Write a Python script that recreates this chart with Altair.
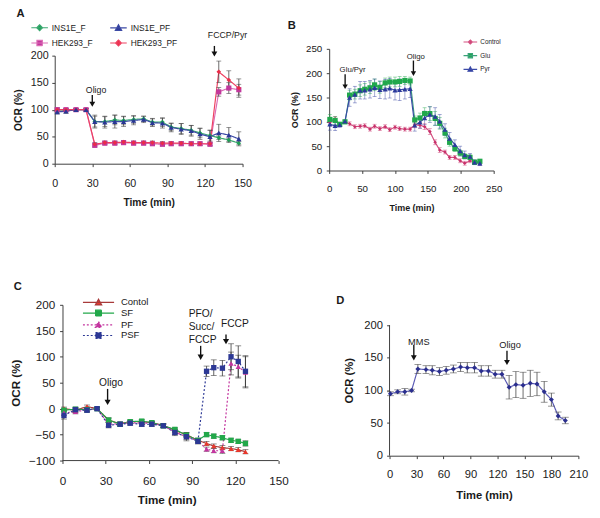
import altair as alt
import pandas as pd

FONT = "Liberation Sans"
AXC = "#3c3c3c"
TXT = "#1a1a1a"

# ---------------- Panel A data ----------------
a_time = [2, 9, 17, 25, 32, 40, 48, 55, 63, 71, 78, 86, 93, 101, 109, 116, 124, 131, 139, 147]
a_names = ["INS1E_F", "HEK293_F", "INS1E_PF", "HEK293_PF"]
a_ins1e_f = [97, 99, 100, 100, 78, 78, 81, 80, 82, 83, 77, 77, 68, 65, 62, 57, 52, 48, 44, 38]
a_ins1e_pf = [96, 97, 100, 100, 78, 77, 78, 78, 80, 82, 76, 75, 67, 64, 61, 55, 50, 57, 53, 46]
a_hek_f = [100, 100, 100, 100, 34, 38, 38, 39, 38, 38, 37, 36, 37, 37, 37, 37, 36, 133, 140, 137]
a_hek_pf = [100, 100, 100, 100, 36, 39, 39, 40, 39, 39, 39, 38, 38, 38, 37, 37, 37, 170, 155, 140]
a_e_ins1e_f = [3, 3, 2, 2, 10, 9, 9, 8, 7, 5, 7, 8, 7, 9, 9, 9, 10, 3, 3, 3]
a_e_ins1e_pf = [4, 4, 2, 2, 12, 11, 12, 9, 8, 6, 7, 9, 8, 10, 10, 10, 12, 16, 14, 13]
a_e_hek_f = [3, 2, 2, 2, 3, 3, 3, 3, 3, 3, 3, 3, 3, 3, 3, 3, 3, 8, 10, 10]
a_e_hek_pf = [3, 2, 2, 2, 3, 3, 3, 3, 3, 3, 3, 3, 3, 3, 3, 3, 3, 20, 17, 17]
a_ann_labels = ["Oligo", "FCCP/Pyr"]
a_ann_t = [33, 138]
a_ann_v = [136, 239]
a_arrow_t = [30, 127.5]
a_arrow_top = [127, 218]
a_arrow_tip = [110, 203]

# ---------------- Panel B data ----------------
b_time = [1, 9, 16, 24, 31, 39, 47, 54, 62, 69, 77, 85, 92, 100, 107, 115, 123,
          130, 138, 145, 153, 161, 168, 176, 183, 191, 199, 206, 214, 221, 229]
b_names = ["Control", "Glu", "Pyr"]
b_control = [98, 106, 94, 100, 96, 90, 91, 92, 85, 91, 86, 90, 84, 89, 86, 85, 85,
             94, 93, 90, 80, 58, 42, 38, 27, 27, 20, 15, 20, 17, 15]
b_glu = [105, 103, 95, 100, 155, 157, 164, 167, 170, 176, 171, 180, 182, 182, 183, 185, 184,
         104, 108, 117, 117, 107, 97, 77, 58, 45, 36, 29, 27, 17, 19]
b_pyr = [95, 92, 94, 101, 150, 156, 165, 165, 167, 170, 166, 167, 169, 165, 166, 167, 168,
         93, 99, 108, 115, 111, 101, 84, 66, 53, 40, 32, 29, 17, 15]
b_e_control = [5, 5, 4, 3, 4, 4, 4, 4, 4, 4, 4, 4, 4, 4, 4, 4, 4, 6, 6, 6, 6, 5, 5, 4, 4, 4, 4, 4, 4, 4, 4]
b_e_glu = [10, 8, 4, 3, 10, 10, 12, 12, 12, 12, 12, 10, 10, 10, 10, 8, 8, 8, 10, 12, 14, 14, 12, 10, 8, 6, 6, 5, 5, 4, 4]
b_e_pyr = [12, 10, 5, 3, 18, 17, 18, 18, 18, 18, 18, 20, 20, 20, 22, 20, 18, 12, 12, 14, 16, 18, 14, 12, 12, 10, 10, 8, 6, 5, 5]
b_ann_labels = ["Glu/Pyr", "Oligo"]
b_ann_t = [35.5, 131.7]
b_ann_v = [206, 234]
b_arrow_t = [24.2, 128]
b_arrow_top = [198, 226]
b_arrow_tip = [172, 199]

# ---------------- Panel C data ----------------
c_time = [1, 9, 17, 24, 32, 40, 47, 55, 62, 70, 78, 86, 94, 100, 105, 111, 117, 122, 127]
c_names = ["Contol", "SF", "PF", "PSF"]
c_contol = [0, -3, 4, 0, -22, -29, -25, -25, -27, -32, -42, -50, -61, -67, -72, -75, -77, -79, -83]
c_sf = [-3, -1, -2, 0, -22, -30, -25, -24, -27, -33, -40, -51, -61, -50, -53, -56, -61, -63, -67]
c_pf = [-8, -6, -2, 0, -30, -29, -27, -28, -28, -33, -45, -54, -62, -78, -81, -81, 87, 81, 70]
c_psf = [-13, -2, -3, 0, -32, -30, -28, -30, -30, -33, -46, -54, -63, 72, 79, 78, 100, 91, 72]
c_e_contol = [3, 3, 3, 2, 4, 3, 3, 3, 3, 3, 4, 4, 4, 4, 4, 4, 4, 4, 4]
c_e_sf = [3, 3, 3, 2, 4, 3, 3, 3, 3, 3, 4, 4, 4, 4, 4, 4, 4, 4, 5]
c_e_pf = [5, 4, 3, 2, 4, 3, 3, 3, 3, 3, 5, 5, 4, 4, 4, 5, 22, 22, 30]
c_e_psf = [7, 5, 4, 2, 5, 4, 4, 4, 4, 4, 6, 8, 5, 10, 15, 15, 25, 30, 30]
c_ann_labels = ["Oligo", "FCCP"]
c_ann_t = [33.6, 119.6]
c_ann_v = [49, 162]
c_ann2_labels = ["PFO/\nSucc/\nFCCP"]
c_ann2_t = [87.6]
c_ann2_v = [192]
c_arrow_t = [31.3, 95.9, 113.5]
c_arrow_top = [38, 121, 143]
c_arrow_tip = [12, 99, 129]

# ---------------- Panel D data ----------------
d_time = [1, 9, 17, 24.5, 31.5, 40.5, 47.5, 55.5, 63, 71, 79, 86.5, 94.5, 102, 110, 117.5,
          125, 133, 140.5, 148.5, 156.5, 164, 172, 180, 187.5, 195.5]
d_names = ["MMS"]
d_vals = [95, 98, 98, 100, 133, 132, 131, 129, 131, 133, 136, 135, 135, 130, 130, 125, 125,
          105, 109, 108, 111, 110, 98, 86, 61, 54]
d_errs = [3, 3, 5, 2, 7, 6, 7, 6, 6, 6, 7, 8, 8, 8, 8, 6, 6, 18, 20, 20, 20, 18, 16, 10, 6, 5]
d_ann_labels = ["MMS", "Oligo"]
d_ann_t = [32.5, 134]
d_ann_v = [175, 170]
d_arrow_t = [27, 130.6]
d_arrow_top = [170, 161]
d_arrow_tip = [150, 143]


def shape_path(kind, m):
    if kind == "diamond":
        return f"M0,{-m:g}L{m:g},0L0,{m:g}L{-m:g},0Z"
    if kind == "triangle-up":
        return f"M0,{-m:g}L{m:g},{0.8 * m:g}L{-m:g},{0.8 * m:g}Z"
    return f"M{-m:g},{-m:g}H{m:g}V{m:g}H{-m:g}Z"


def legend_path(kind, half, m):
    return f"M{-half:g},0H{half:g}" + shape_path(kind, m)


def make_axis(values, title, lsize, tsize, lpad, tpad, domain=True, offset=0):
    return alt.Axis(values=values, title=title, grid=False, domain=domain, domainColor=AXC,
                    domainWidth=1, ticks=True, tickColor=AXC, tickSize=3, tickWidth=1,
                    labelFont=FONT, labelFontSize=lsize, labelColor=TXT, labelPadding=lpad,
                    labelOverlap=False, labelFlush=False, offset=offset,
                    titleFont=FONT, titleFontSize=tsize, titleFontWeight="bold",
                    titleColor=TXT, titlePadding=tpad)


def build_panel(P):
    f = P["field"]
    order = P["order"]
    rows = []
    for s in order:
        for t, v, e in zip(P["time"], P["vals"][s], P["errs"][s]):
            rows.append({"time": t, "value": v, "lo": v - e, "hi": v + e, f: s})
    df = pd.DataFrame(rows)

    xs = alt.Scale(domain=P["xdom"], nice=False, zero=False)
    ys = alt.Scale(domain=P["ydom"], nice=False, zero=False)
    xa = make_axis(P["xticks"], "Time (min)", domain=("xline" not in P), **P["xax"])
    ya = make_axis(P["yticks"], "OCR (%)", domain=("yline" not in P), **P["yax"])

    def X(c):
        return alt.X(f"{c}:Q", scale=xs, axis=xa)

    def Y(c):
        return alt.Y(f"{c}:Q", scale=ys, axis=ya)

    has_leg = "legend" in P
    lg = {} if has_leg else {"legend": None}
    cs = alt.Scale(domain=order, range=P["mcolors"])
    ss = alt.Scale(domain=order, range=P["lcolors"])
    ds = alt.Scale(domain=order, range=P["dashes"])
    layers = []

    if "yline" in P:
        yl = pd.DataFrame({"x0": [P["yline"][0]], "y0": [P["yline"][1]], "y1": [P["yline"][2]]})
        layers.append(alt.Chart(yl).mark_rule(color=AXC, strokeWidth=1).encode(
            x=X("x0"), y=Y("y0"), y2="y1:Q"))
    if "xline" in P:
        xl = pd.DataFrame({"y0": [P["xline"][0]], "x0": [P["xline"][1]], "x1": [P["xline"][2]]})
        layers.append(alt.Chart(xl).mark_rule(color=AXC, strokeWidth=1).encode(
            y=Y("y0"), x=X("x0"), x2="x1:Q"))

    layers.append(alt.Chart(df).mark_line(strokeWidth=1.2).encode(
        x=X("time"), y=Y("value"),
        stroke=alt.Stroke(f"{f}:N", scale=ss, **lg),
        strokeDash=alt.StrokeDash(f"{f}:N", scale=ds, **lg)))

    if P.get("err_by_series"):
        enc = {"color": alt.Color(f"{f}:N", scale=cs, **lg)}
        mk = {"opacity": 0.55}
    else:
        enc = {}
        mk = {"color": P["err_color"]}
    layers.append(alt.Chart(df).mark_rule(strokeWidth=0.8, **mk).encode(
        x=X("time"), y=Y("lo"), y2="hi:Q", **enc))
    layers.append(alt.Chart(df).transform_fold(["lo", "hi"], as_=["k", "cap"]).mark_tick(
        orient="horizontal", size=P["cap"], thickness=0.8, **mk).encode(
        x=X("time"), y=Y("cap"), **enc))

    for s in P["draw_order"]:
        i = order.index(s)
        layers.append(alt.Chart(df).transform_filter(alt.datum[f] == s).mark_point(
            filled=True, shape=P["shapes"][i], size=P["sizes"][i], opacity=1, strokeWidth=0).encode(
            x=X("time"), y=Y("value"), color=alt.Color(f"{f}:N", scale=cs, **lg)))

    for grp in P["ann"]:
        adf = pd.DataFrame({"t": grp["t"], "v": grp["v"], "label": grp["labels"]})
        layers.append(alt.Chart(adf).mark_text(
            font=FONT, fontSize=grp["fs"], color=TXT, align=grp.get("align", "center"),
            baseline=grp.get("baseline", "middle"), lineBreak="\n",
            lineHeight=grp.get("lh", grp["fs"] * 1.2)).encode(
            x=X("t"), y=Y("v"), text="label:N"))

    arr = pd.DataFrame({"t": P["arrow_t"], "top": P["arrow_top"], "tip": P["arrow_tip"]})
    layers.append(alt.Chart(arr).mark_rule(color="#111111", strokeWidth=1.4).encode(
        x=X("t"), y=Y("top"), y2="tip:Q"))
    layers.append(alt.Chart(arr).mark_point(shape="triangle-down", filled=True, color="#111111",
                                            size=P["head"], opacity=1, strokeWidth=0).encode(
        x=X("t"), y=Y("tip")))

    ldf = pd.DataFrame({"L": [P["letter"]]})
    layers.append(alt.Chart(ldf).mark_text(font=FONT, fontSize=11.5, fontWeight="bold",
                                           color=TXT).encode(
        x=alt.value(P["letter_xy"][0]), y=alt.value(P["letter_xy"][1]), text="L:N"))

    # invisible layout anchors (fix the outer extent of each row)
    for ax_, ay_ in P.get("anchors", []):
        layers.append(alt.Chart(pd.DataFrame({"a": [0]})).mark_point(
            opacity=0, size=1, filled=True).encode(x=alt.value(ax_), y=alt.value(ay_)))

    if has_leg:
        lp = P["legend"]
        L = alt.Legend(orient="none", legendX=lp["x"], legendY=lp["y"], title=None,
                       columns=lp.get("columns", 1), symbolSize=lp["size"],
                       symbolStrokeWidth=1.2, symbolStrokeColor="#000000",
                       symbolFillColor="#000000", labelFont=FONT,
                       labelFontSize=lp["fs"], labelColor=TXT, labelOffset=lp["offset"],
                       rowPadding=lp["rowpad"], columnPadding=lp.get("colpad", 10), padding=0)
        paths = [legend_path(k, lp["half"], m) for k, m in zip(P["shapes"], lp["marks"])]
        layers.append(alt.Chart(df).transform_filter("false").mark_point(
            filled=True, opacity=1, strokeWidth=1.2).encode(
            x=X("time"), y=Y("value"),
            color=alt.Color(f"{f}:N", scale=cs, legend=L),
            stroke=alt.Stroke(f"{f}:N", scale=ss, legend=L),
            shape=alt.Shape(f"{f}:N", scale=alt.Scale(domain=order, range=paths), legend=L),
            strokeDash=alt.StrokeDash(f"{f}:N", scale=ds, legend=L)))

    return alt.layer(*layers).properties(width=P["w"], height=P["h"])


SOLID = [1, 0]
DOT = [2, 2]

panel_a = build_panel(dict(
    field="sa", order=a_names, time=a_time,
    vals=dict(zip(a_names, [a_ins1e_f, a_hek_f, a_ins1e_pf, a_hek_pf])),
    errs=dict(zip(a_names, [a_e_ins1e_f, a_e_hek_f, a_e_ins1e_pf, a_e_hek_pf])),
    xdom=[0, 150], ydom=[0, 200], xticks=[0, 30, 60, 90, 120, 150], yticks=[0, 50, 100, 150, 200],
    xax=dict(lsize=11, tsize=10.5, lpad=11, tpad=9.9), yax=dict(lsize=11, tsize=10.5, lpad=3.7, tpad=6.7),
    mcolors=["#1e9e55", "#c1389c", "#2a3795", "#ea2c48"],
    lcolors=["#3aa870", "#dc6cb6", "#3c4aa5", "#ee4060"],
    dashes=[SOLID, SOLID, SOLID, SOLID],
    shapes=["diamond", "square", "triangle-up", "diamond"], sizes=[22, 28, 30, 22],
    draw_order=["INS1E_F", "HEK293_F", "HEK293_PF", "INS1E_PF"],
    err_color="#444444", cap=5,
    ann=[dict(labels=a_ann_labels, t=a_ann_t, v=a_ann_v, fs=9)],
    arrow_t=a_arrow_t, arrow_top=a_arrow_top, arrow_tip=a_arrow_tip, head=36,
    letter="A", letter_xy=(-35, -43),
    anchors=[(-57, -57)],
    legend=dict(x=-21.5, y=-35, columns=2, size=100, half=1.7, marks=[0.6, 0.55, 0.65, 0.6],
                fs=8.6, offset=6.5, rowpad=4, colpad=15),
    w=193, h=111))

panel_b = build_panel(dict(
    field="sb", order=b_names, time=b_time,
    vals=dict(zip(b_names, [b_control, b_glu, b_pyr])),
    errs=dict(zip(b_names, [b_e_control, b_e_glu, b_e_pyr])),
    xdom=[0, 250], ydom=[0, 250], xticks=[0, 50, 100, 150, 200, 250],
    yticks=[0, 50, 100, 150, 200, 250],
    xax=dict(lsize=10, tsize=9.2, lpad=10.5, tpad=10.8), yax=dict(lsize=10, tsize=9.2, lpad=4.7, tpad=6.1),
    mcolors=["#c8306a", "#20a84c", "#2b3a9c"],
    lcolors=["#d45080", "#3aa27a", "#3b4aa8"],
    dashes=[SOLID, SOLID, SOLID],
    shapes=["diamond", "square", "triangle-up"], sizes=[14, 28, 28],
    draw_order=["Control", "Glu", "Pyr"],
    err_by_series=True, cap=4,
    ann=[dict(labels=b_ann_labels, t=b_ann_t, v=b_ann_v, fs=8)],
    arrow_t=b_arrow_t, arrow_top=b_arrow_top, arrow_tip=b_arrow_tip, head=30,
    letter="B", letter_xy=(-38.5, -23),
    anchors=[(0, 175)],
    legend=dict(x=140, y=-12, size=64, half=1.75, marks=[0.5, 0.55, 0.6],
                fs=6.5, offset=5.3, rowpad=4),
    w=169, h=125))

# panel C view is 8px wider on the left; its axes are drawn from x=0
C_SHIFT = 8
panel_c = build_panel(dict(
    field="sc", order=c_names, time=c_time,
    vals=dict(zip(c_names, [c_contol, c_sf, c_pf, c_psf])),
    errs=dict(zip(c_names, [c_e_contol, c_e_sf, c_e_pf, c_e_psf])),
    xdom=[-150 * C_SHIFT / 222, 150], ydom=[-100, 200], xline=[-100, 0, 150],
    xticks=[0, 30, 60, 90, 120, 150],
    yticks=[-100, -50, 0, 50, 100, 150, 200],
    xax=dict(lsize=12, tsize=12, lpad=12.1, tpad=9.3),
    yax=dict(lsize=12, tsize=12, lpad=5, tpad=6, offset=-C_SHIFT),
    mcolors=["#e8382c", "#22a84a", "#c4359f", "#2c3895"],
    lcolors=["#a83a3a", "#22a84a", "#c4359f", "#2c3895"],
    dashes=[SOLID, SOLID, DOT, DOT],
    shapes=["triangle-up", "square", "triangle-up", "square"], sizes=[30, 30, 30, 30],
    draw_order=["Contol", "SF", "PF", "PSF"],
    err_color="#333333", cap=6,
    ann=[dict(labels=c_ann_labels, t=c_ann_t, v=c_ann_v, fs=10.5),
         dict(labels=c_ann2_labels, t=c_ann2_t, v=c_ann2_v, fs=10.5, align="left",
              baseline="top", lh=13.3)],
    arrow_t=c_arrow_t, arrow_top=c_arrow_top, arrow_tip=c_arrow_tip, head=40,
    letter="C", letter_xy=(-46 + C_SHIFT, -18),
    anchors=[(-65, -30)],
    legend=dict(x=31 + C_SHIFT, y=-8.5, size=100, half=3.2, marks=[0.65, 0.6, 0.65, 0.6],
                fs=9.8, offset=17, rowpad=-1),
    w=222 + C_SHIFT, h=160))

panel_d = build_panel(dict(
    field="sd", order=d_names, time=d_time,
    vals={"MMS": d_vals}, errs={"MMS": d_errs},
    xdom=[0, 210], ydom=[0, 231.34], yline=[0, 0, 200], xticks=[0, 30, 60, 90, 120, 150, 180, 210],
    yticks=[0, 50, 100, 150, 200],
    xax=dict(lsize=11.5, tsize=11.5, lpad=10, tpad=10.2), yax=dict(lsize=11.5, tsize=11.5, lpad=4.3, tpad=10),
    mcolors=["#2a2e8e"], lcolors=["#5a5ab4"], dashes=[SOLID],
    shapes=["diamond"], sizes=[26], draw_order=["MMS"],
    err_color="#444444", cap=7,
    ann=[dict(labels=d_ann_labels, t=d_ann_t, v=d_ann_v, fs=9.5)],
    arrow_t=d_arrow_t, arrow_top=d_arrow_top, arrow_tip=d_arrow_tip, head=36,
    letter="D", letter_xy=(-50.5, -3.5),
    w=194, h=155))

IND = dict(color="independent", stroke="independent", shape="independent",
           strokeDash="independent")

top_row = alt.hconcat(panel_a, panel_b, spacing=89, bounds="flush", center=True) \
    .resolve_scale(**IND).resolve_legend(**IND)
bottom_row = alt.hconcat(panel_c, panel_d, spacing=114, bounds="flush") \
    .resolve_scale(**IND).resolve_legend(**IND)

chart = alt.vconcat(top_row, bottom_row, spacing=56) \
    .resolve_scale(**IND).resolve_legend(**IND) \
    .configure_view(stroke=None) \
    .properties(padding={"left": -18, "top": -16, "right": 4, "bottom": 4}, background="white")

chart.save("out.html", embed_options={"renderer": "svg", "actions": False})
